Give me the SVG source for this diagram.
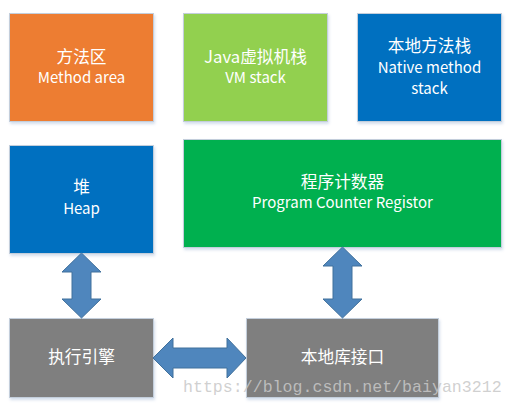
<svg xmlns="http://www.w3.org/2000/svg" width="514" height="406" viewBox="0 0 514 406">
<defs>
<filter id="sh" x="-10%" y="-10%" width="130%" height="130%">
<feDropShadow dx="1" dy="2" stdDeviation="1.5" flood-color="#9fb6d6" flood-opacity="0.45"/>
</filter>
<style>
.box{stroke:#c3cedb;stroke-width:1;filter:url(#sh)}
.t{fill:#ffffff;font-family:"Noto Sans CJK SC","Noto Sans",sans-serif;text-anchor:middle}
.zh{font-size:16.7px}
.en{font-size:15px}
.arr{fill:#4f86bd;stroke:#41719c;stroke-width:1;stroke-linejoin:miter}
.wm{fill:#c8c8c8;font-family:"Liberation Mono",monospace;font-size:16.6px;fill-opacity:0.85}
</style>
</defs>
<rect width="514" height="406" fill="#ffffff"/>
<g id="method-area">
<rect class="box" x="9.5" y="13.5" width="144" height="108" fill="#ed7d31"/>
<text class="t zh" x="81.5" y="63">方法区</text>
<text class="t en" x="81.5" y="83">Method area</text>
</g>
<g id="vm-stack">
<rect class="box" x="183.5" y="13.5" width="144" height="108" fill="#92d050"/>
<text class="t zh" x="255.5" y="63">Java虚拟机栈</text>
<text class="t en" x="255.5" y="83">VM stack</text>
</g>
<g id="native-stack">
<rect class="box" x="357.5" y="13.5" width="144" height="108" fill="#0070c0"/>
<text class="t zh" x="429.5" y="52">本地方法栈</text>
<text class="t en" x="429.5" y="73">Native method</text>
<text class="t en" x="429.5" y="94">stack</text>
</g>
<g id="heap">
<rect class="box" x="9.5" y="145.5" width="144" height="108" fill="#0070c0"/>
<text class="t zh" x="81.5" y="193">堆</text>
<text class="t en" x="81.5" y="214">Heap</text>
</g>
<g id="pc-register">
<rect class="box" x="183.5" y="139.5" width="318" height="108" fill="#00b050"/>
<text class="t zh" x="342.5" y="188">程序计数器</text>
<text class="t en" x="342.5" y="208">Program Counter Registor</text>
</g>
<g id="engine">
<rect class="box" x="9.5" y="318.5" width="144" height="79" fill="#7f7f7f"/>
<text class="t zh" x="81.5" y="363">执行引擎</text>
</g>
<g id="native-interface">
<rect class="box" x="246.5" y="318.5" width="192" height="79" fill="#7f7f7f"/>
<text class="t zh" x="342.5" y="363">本地库接口</text>
</g>
<g id="connectors">
<polygon class="arr" points="81.5,253 101,272 91,272 91,299 101,299 81.5,318 62,299 72,299 72,272 62,272"/>
<polygon class="arr" points="342.5,247 362,266 352,266 352,299 362,299 342.5,318 323,299 333,299 333,266 323,266"/>
<polygon class="arr" points="153,358 173,338 173,348 227,348 227,338 246,358 227,378 227,368 173,368 173,378"/>
</g>
<text class="wm" x="183" y="392">https://blog.csdn.net/baiyan3212</text>
</svg>
